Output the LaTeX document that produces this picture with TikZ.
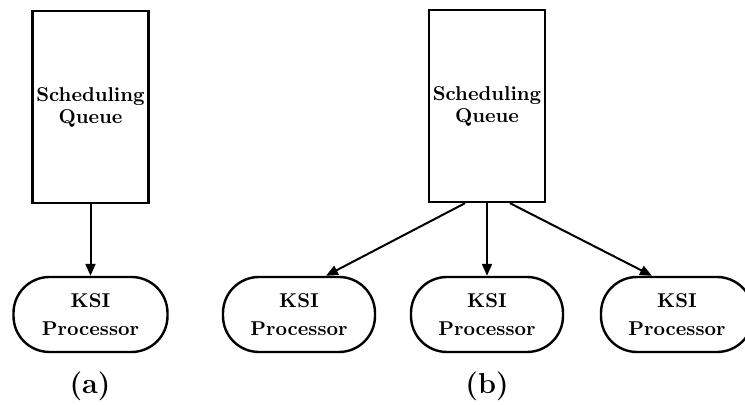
\documentclass[tikz,border=0pt]{standalone}
\usetikzlibrary{arrows.meta, positioning}

\begin{document}
\begin{tikzpicture}[
  x=0.5pt, y=-0.5pt,
  queue/.style={rectangle, draw=black, line width=1.2pt, minimum width=58pt,
                minimum height=96pt, align=center, font=\bfseries,
                inner sep=0pt},
  ksi/.style={rectangle, rounded corners=18pt, draw=black, line width=1.2pt,
              minimum width=76pt, minimum height=37.5pt, align=center,
              font=\bfseries, inner sep=0pt},
  lab/.style={font=\bfseries\Large},
  arr/.style={-{Triangle[length=6pt, width=5pt]}, line width=1pt}
]
\useasboundingbox (0,0) rectangle (745,405);

% (a) one processor
\node[queue] (queueA) at (90.5,107) {Scheduling\\[-1pt]Queue};
\node[ksi, minimum width=77pt] (ksiA) at (90.5,314.5) {KSI\\[2pt]Processor};
\node[lab] (labA) at (90,386) {(a)};

% (b) three processors
\node[queue] (queueB) at (487,106) {Scheduling\\[-1pt]Queue};
\node[ksi] (ksiB1) at (299,314.5) {KSI\\[2pt]Processor};
\node[ksi] (ksiB2) at (487,314.5) {KSI\\[2pt]Processor};
\node[ksi] (ksiB3) at (677,314.5) {KSI\\[2pt]Processor};
\node[lab] (labB) at (487,386) {(b)};

\draw[arr] (queueA) -- (ksiA);
\draw[arr] ([xshift=-11pt]queueB.south) -- ([xshift=13.5pt]ksiB1.north);
\draw[arr] (queueB) -- (ksiB2);
\draw[arr] ([xshift=11.5pt]queueB.south) -- ([xshift=-12.5pt]ksiB3.north);

\end{tikzpicture}
\end{document}
